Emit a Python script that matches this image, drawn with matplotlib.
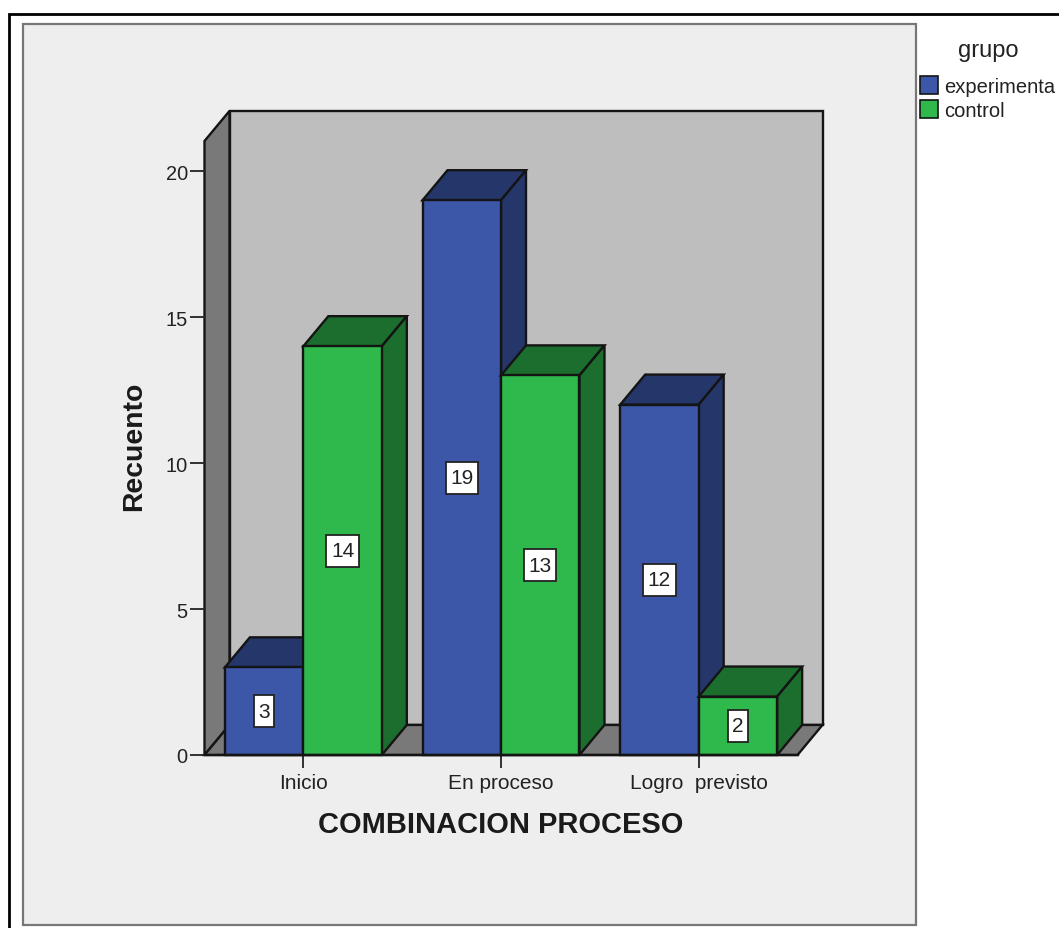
import numpy as np
import matplotlib
matplotlib.use("Agg")
import matplotlib.pyplot as plt
from matplotlib.patches import Polygon, Rectangle
from matplotlib.path import Path

plt.rcParams['font.family'] = ['Liberation Sans', 'DejaVu Sans']

### Data ###
categorias = ['Inicio', 'En proceso', 'Logro  previsto']
experimental = [3, 19, 12]
control = [14, 13, 2]
y_ticks = [0, 5, 10, 15, 20]

W, H = 1059, 929
ANCHO = 0.397
DX = 0.1265
DY = 1.03
YMAX = 21.03
EDGE = '#141414'

colores = {'experimental': ('#3c56a8', '#25366b'), 'control': ('#2fb84c', '#1c6e2e')}


def px_rect(x0, y0, x1, y1):
    # rectangle in figure fractions from pixel corners, y measured from the top
    return (x0 / W, 1 - y1 / H), (x1 - x0) / W, (y1 - y0) / H


orden = [3]


def z():
    orden[0] += 0.1
    return orden[0]


def caja(ax, x, valor, claro, oscuro):
    # top and side faces first, the front face goes over them
    top = [(x, valor), (x + ANCHO, valor), (x + ANCHO + DX, valor + DY), (x + DX, valor + DY)]
    side = [(x + ANCHO, 0), (x + ANCHO + DX, DY), (x + ANCHO + DX, valor + DY), (x + ANCHO, valor)]
    ax.add_patch(Polygon(top, fc=oscuro, ec=EDGE, lw=1.7, clip_on=False, zorder=z()))
    ax.add_patch(Polygon(side, fc=oscuro, ec=EDGE, lw=1.7, clip_on=False, zorder=z()))
    ax.bar(x, valor, ANCHO, align='edge', color=claro, edgecolor=EDGE, linewidth=1.7,
           clip_on=False, zorder=z())


def caja_etiqueta(x0, y0, width, height, mutation_size):
    # narrow, tall box around the value labels
    px, py = 0.22 * mutation_size, 0.40 * mutation_size
    cy = y0 + height / 2
    alto = 0.37 * mutation_size + py
    return Path([(x0 - px, cy - alto), (x0 + width + px, cy - alto), (x0 + width + px, cy + alto),
                 (x0 - px, cy + alto), (x0 - px, cy - alto)], closed=True)


fig = plt.figure(figsize=(W / 100, H / 100), dpi=100, facecolor='white')

xy, w, h = px_rect(8.5, 14.5, 1070, 945)
fig.add_artist(Rectangle(xy, w, h, transform=fig.transFigure, fc='white', ec='black', lw=2, zorder=-2))
xy, w, h = px_rect(22.5, 24.5, 916, 926)
fig.add_artist(Rectangle(xy, w, h, transform=fig.transFigure, fc='#eeeeee', ec='#777777', lw=1.6, zorder=-1))

ax = fig.add_axes([204.5 / W, 1 - 756 / H, 593 / W, 614 / H])
ax.patch.set_visible(False)
ax.set_xlim(-0.5, 2.5)
ax.set_ylim(0, YMAX)

# paredes y piso del grafico
ax.add_patch(Polygon([(-0.5 + DX, DY), (2.5 + DX, DY), (2.5 + DX, YMAX + DY), (-0.5 + DX, YMAX + DY)],
                     fc='#bebebe', ec=EDGE, lw=1.7, clip_on=False, zorder=1))
ax.add_patch(Polygon([(-0.5, 0), (-0.5 + DX, DY), (-0.5 + DX, YMAX + DY), (-0.5, YMAX)],
                     fc='#797979', ec=EDGE, lw=1.7, clip_on=False, zorder=1.1))
ax.add_patch(Polygon([(-0.5, 0), (2.5, 0), (2.5 + DX, DY), (-0.5 + DX, DY)],
                     fc='#797979', ec=EDGE, lw=1.7, clip_on=False, zorder=1.2))

for i in range(len(categorias)):
    caja(ax, i - ANCHO, experimental[i], *colores['experimental'])
    caja(ax, i, control[i], *colores['control'])

for i in range(len(categorias)):
    for x, v in [(i - ANCHO / 2, experimental[i]), (i + ANCHO / 2, control[i])]:
        ax.text(x, v / 2, str(v), ha='center', va='center', fontsize=15, color='#222222', zorder=20,
                bbox=dict(boxstyle=caja_etiqueta, fc='white', ec='#222222', lw=1.3))

for lado in ['top', 'right', 'left']:
    ax.spines[lado].set_visible(False)
ax.spines['bottom'].set_linewidth(1.7)
ax.spines['bottom'].set_color(EDGE)
ax.spines['bottom'].set_zorder(15)

ax.set_yticks(y_ticks)
ax.set_xticks(range(len(categorias)))
ax.set_xticklabels(categorias)
ax.tick_params(axis='y', length=11, width=1.3, pad=1, labelsize=14.4, color='#222222', labelcolor='#222222')
ax.tick_params(axis='x', length=9.5, width=1.3, pad=3.5, labelsize=15, color='#222222', labelcolor='#222222')
ax.set_ylabel('Recuento', fontsize=20.4, fontweight='bold', color='#1a1a1a', labelpad=13.5, y=0.505)
ax.set_xlabel('COMBINACION PROCESO', fontsize=20.9, fontweight='bold', color='#1a1a1a', labelpad=13)

handles = [Rectangle((0, 0), 1, 1, fc=colores['experimental'][0], ec=EDGE, lw=1.2),
           Rectangle((0, 0), 1, 1, fc=colores['control'][0], ec=EDGE, lw=1.2)]
leg = fig.legend(handles, ['experimenta', 'control'], title='grupo', frameon=False,
                 loc='upper left', bbox_to_anchor=(920 / W, 1 - 40 / H), borderaxespad=0, borderpad=0,
                 fontsize=14.5, title_fontsize=17, handlelength=0.9, handleheight=0.95,
                 handletextpad=0.32, labelspacing=0.22, labelcolor='#222222')
leg.get_title().set_color('#222222')
leg._legend_box.sep = 11

fig.savefig('out.png', dpi=100)
